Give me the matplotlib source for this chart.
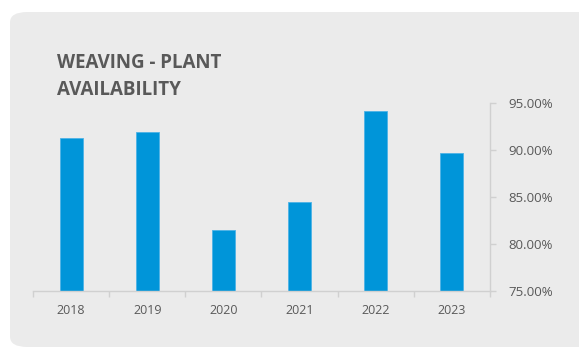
import numpy as np
import matplotlib
matplotlib.use("Agg")
import matplotlib.pyplot as plt
from matplotlib.patches import FancyBboxPatch
from matplotlib.ticker import FuncFormatter, FixedLocator

years = ["2018", "2019", "2020", "2021", "2022", "2023"]
availability = [91.3, 91.9, 81.5, 84.5, 94.2, 89.7]
y_ticks = [75, 80, 85, 90, 95]

plt.rcParams["font.family"] = ["Open Sans", "DejaVu Sans"]

W, H = 579, 348
fig = plt.figure(figsize=(W / 100, H / 100), dpi=100)
fig.patch.set_facecolor("white")

# rounded grey card behind the chart (runs off the right edge)
card = FancyBboxPatch((10 / W, 1 - 347 / H), 590 / W, 335 / H,
                      boxstyle="round,pad=0,rounding_size=0.03",
                      transform=fig.transFigure, facecolor="#ebebeb",
                      edgecolor="none", zorder=0)
fig.patches.append(card)

ax = fig.add_axes([33 / W, 1 - 291 / H, 457 / W, (291 - 103.3) / H])
ax.set_facecolor("none")
ax.set_zorder(2)

x = np.arange(len(years))
ax.bar(x, availability, width=0.3, color="#0095d9", edgecolor="#4db3e6",
       linewidth=0.6, zorder=2)

ax.set_xlim(-0.5, len(years) - 0.5)
ax.set_ylim(75, 95)
ax.set_yticks(y_ticks)
ax.yaxis.set_major_formatter(FuncFormatter(lambda v, _: f"{v:.2f}%"))
ax.yaxis.tick_right()

ax.set_xticks(x)
ax.set_xticklabels(years)
ax.xaxis.set_minor_locator(FixedLocator(np.arange(-0.5, len(years), 1.0)))

grid_col = "#d0d0d0"
text_col = "#595959"
for side in ["left", "top"]:
    ax.spines[side].set_visible(False)
for side in ["right", "bottom"]:
    ax.spines[side].set_color(grid_col)
    ax.spines[side].set_linewidth(1.0)

ax.tick_params(axis="x", which="major", length=0, pad=9,
               labelsize=9, labelcolor=text_col)
ax.tick_params(axis="x", which="minor", length=4, color=grid_col, width=1)
ax.tick_params(axis="y", which="major", length=4, color=grid_col, width=1,
               pad=9, labelsize=9.5, labelcolor=text_col)

fig.text(57 / W, 1 - 53 / H, "WEAVING - PLANT\nAVAILABILITY",
         ha="left", va="top", fontsize=13.5, fontweight="bold",
         color=text_col, linespacing=1.45)

fig.savefig("out.png", dpi=100)
